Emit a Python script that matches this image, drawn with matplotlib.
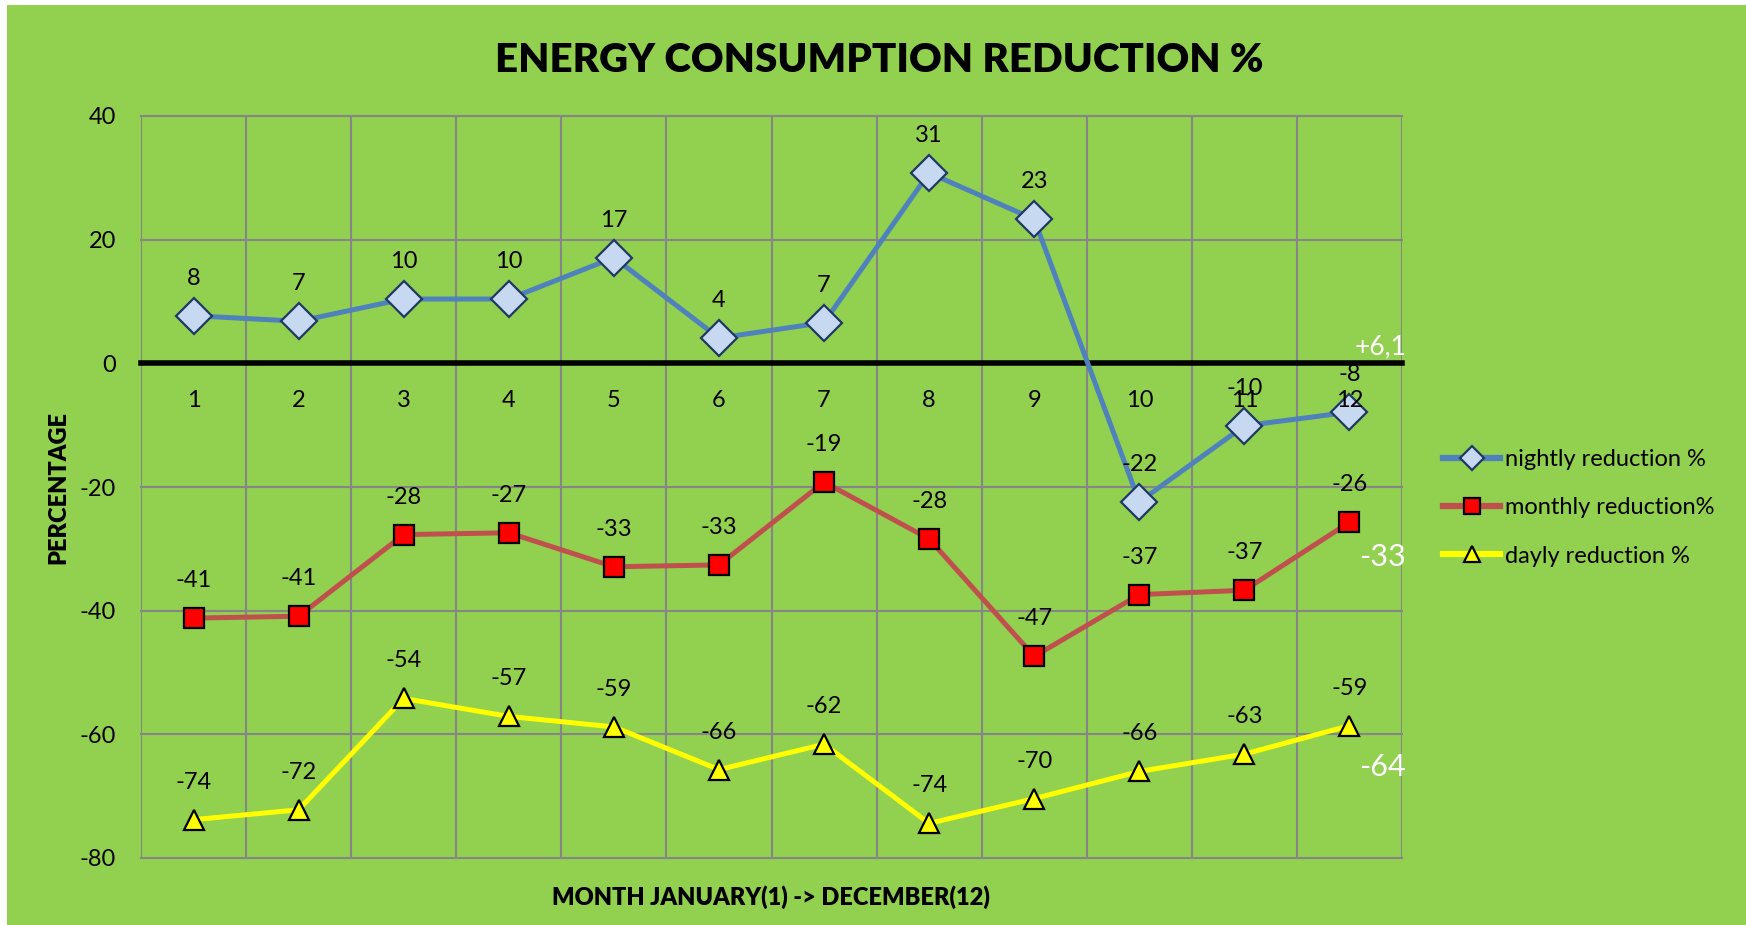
import matplotlib.pyplot as plt
from matplotlib.patches import Rectangle

plt.rcParams['font.family'] = ['Lato', 'DejaVu Sans']
plt.rcParams['axes.unicode_minus'] = False

# values
months = [1, 2, 3, 4, 5, 6, 7, 8, 9, 10, 11, 12]
nightly = [7.7, 6.8, 10.4, 10.4, 17.1, 4.1, 6.6, 30.8, 23.3, -22.4, -10.1, -7.9]
monthly = [-41.2, -40.9, -27.7, -27.4, -32.9, -32.6, -19.2, -28.4, -47.4, -37.4, -36.7, -25.7]
daily = [-73.8, -72.2, -54.2, -57.1, -58.8, -65.7, -61.6, -74.4, -70.4, -66.0, -63.2, -58.6]
side_notes = [('+6,1', 2.7, 19), ('-33', -31.4, 22), ('-64', -65.3, 22)]

GREEN = '#92D050'
GRID = '#868686'

fig = plt.figure(figsize=(17.46, 9.25), dpi=100)
fig.patch.set_facecolor('white')
fig.patches.append(Rectangle((7 / 1746, 0), 1, 1 - 5 / 925, transform=fig.transFigure,
                             facecolor=GREEN, edgecolor='none', zorder=-5))

ax = fig.add_axes([141 / 1746, 67 / 925, (1402 - 141) / 1746, (858 - 116) / 925])
ax.set_facecolor(GREEN)

series = [
    (nightly, 'nightly reduction %', '#4F81BD', 'D', '#C6D9F1', '#1F3864', 18),
    (monthly, 'monthly reduction%', '#C0504D', 's', '#FF0000', 'black', 14),
    (daily, 'dayly reduction %', '#FFFF00', '^', '#FFFF00', 'black', 15),
]
for vals, name, lc, mk, fc, ec, ms in series:
    ax.plot(months, vals, color=lc, lw=3.6, marker=mk, markersize=ms,
            markerfacecolor=fc, markeredgecolor=ec, markeredgewidth=1.6,
            label=name, zorder=4)
    for m, v in zip(months, vals):
        ax.annotate(f'{round(v):d}', (m, v), xytext=(0, 27), textcoords='offset points',
                    ha='center', va='center', fontsize=17, color='black', zorder=5)

# month labels sit just under the zero line, drawn above the markers
for m in months:
    ax.annotate(str(m), (m, 0), xytext=(0, -19), textcoords='offset points',
                ha='center', va='top', fontsize=17, color='black', zorder=6)

for txt, yv, fs in side_notes:
    ax.text(12.54, yv, txt, ha='right', va='center', fontsize=fs, color='white', zorder=6)

ax.set_xlim(0.5, 12.5)
ax.set_ylim(-80, 40)
ax.set_yticks(range(-80, 41, 20))
ax.set_xticks(months)
ax.set_xticklabels([])
ax.set_xticks([m + 0.5 for m in range(0, 13)], minor=True)
ax.grid(True, which='minor', axis='x', color=GRID, lw=1.5)
ax.grid(True, which='major', axis='y', color=GRID, lw=1.5)
for t in ax.yaxis.get_major_ticks() + ax.xaxis.get_minor_ticks():
    t.gridline.set_clip_on(False)
ax.set_axisbelow(True)

for s in ['top', 'left', 'right']:
    ax.spines[s].set_visible(False)
ax.spines['bottom'].set_position(('data', 0))
ax.spines['bottom'].set_linewidth(4)
ax.spines['bottom'].set_color('black')
ax.spines['bottom'].set_zorder(3)

ax.tick_params(axis='both', which='both', length=0, labelsize=17)
ax.tick_params(axis='y', pad=18)

fig.text(879 / 1746, 1 - 60 / 925, 'ENERGY CONSUMPTION REDUCTION %', ha='center', va='center',
         fontsize=29, fontweight='heavy')
fig.text(771 / 1746, 1 - 897 / 925, 'MONTH JANUARY(1) -> DECEMBER(12)', ha='center', va='center',
         fontsize=17, fontweight='heavy')
fig.text(58 / 1746, 1 - 488 / 925, 'PERCENTAGE', ha='center', va='center', rotation=90,
         fontsize=17, fontweight='heavy')

leg = ax.legend(loc='center left', bbox_to_anchor=(1422 / 1746, 1 - 508 / 925),
                bbox_transform=fig.transFigure, frameon=False, fontsize=17,
                handlelength=2.4, handletextpad=0.2, labelspacing=1.15)
for h in leg.legend_handles:
    h.set_markersize(12)
    h.set_linewidth(4.5)

fig.savefig('out.png', dpi=100, facecolor=fig.get_facecolor())
